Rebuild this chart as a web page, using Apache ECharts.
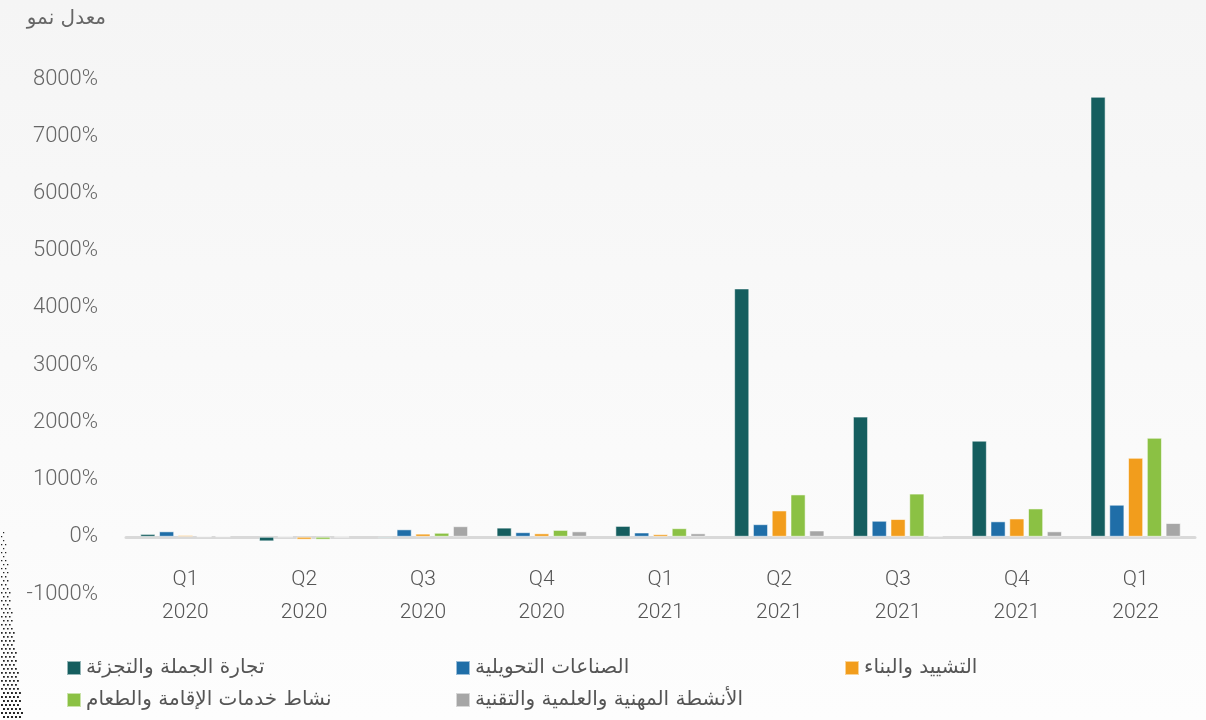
<!DOCTYPE html>
<html>
<head>
<meta charset="utf-8">
<script src="https://cdn.jsdelivr.net/npm/echarts@6/dist/echarts.min.js"></script>
<style>
html, body { margin: 0; padding: 0; }
#chart { width: 1206px; height: 720px; }
</style>
</head>
<body>
<div id="chart"></div>
<script>
const quarters = ["Q1\n2020", "Q2\n2020", "Q3\n2020", "Q4\n2020", "Q1\n2021", "Q2\n2021", "Q3\n2021", "Q4\n2021", "Q1\n2022"]
const tradeRetail = [50, -80, -25, 160, 190, 4340, 2100, 1680, 7690]
const manufacturing = [95, 0, 130, 80, 75, 220, 280, 270, 560]
const construction = [30, -50, 55, 60, 45, 460, 310, 320, 1380]
const hospitality = [5, -50, 70, 120, 150, 740, 755, 495, 1730]
const professional = [5, -5, 185, 95, 60, 110, 20, 95, 240]
const seriesNames = ["تجارة الجملة والتجزئة", "الصناعات التحويلية", "التشييد والبناء", "نشاط خدمات الإقامة والطعام", "الأنشطة المهنية والعلمية والتقنية"]
const seriesValues = [tradeRetail, manufacturing, construction, hospitality, professional]
const colors = ["#155e5f", "#1f6ea8", "#f29d1c", "#8bc144", "#a6a6a6"]

const chart = echarts.init(document.getElementById("chart"))

const font = "Roboto, 'DejaVu Sans', sans-serif"
const arabicFont = "'DejaVu Sans', sans-serif"

// legend slots: 3 columns, 2 rows
const legendPos = [[66, 658], [455, 658], [844, 658], [66, 690], [455, 690]]

// halftone dots on the lower left edge (decoration)
let dots = []
for (let y = 532; y < 720; y += 4) {
	let t = (y - 532) / 188
	let reach = 4 + t * 18
	for (let x = 1 + ((y / 4) % 2) * 2; x < reach; x += 4) {
		dots.push({
			type: "rect",
			shape: { x: x, y: y, width: 1.2 + t * 0.8, height: 1.2 + t * 0.8 },
			style: { fill: "#222" },
			silent: true
		})
	}
}

let option = {
	backgroundColor: new echarts.graphic.LinearGradient(0, 0, 0, 1, [
		{ offset: 0, color: "#f5f5f5" },
		{ offset: 1, color: "#fdfdfd" }
	]),
	color: colors,
	graphic: dots,
	grid: {
		top: 79,
		bottom: 126,
		left: 126,
		right: 11
	},
	legend: seriesNames.map((name, i) => ({
		left: legendPos[i][0],
		top: legendPos[i][1],
		padding: 0,
		itemWidth: 14,
		itemHeight: 14,
		icon: "rect",
		textStyle: {
			fontFamily: arabicFont,
			fontSize: 20,
			color: "#555"
		},
		data: [name]
	})),
	xAxis: {
		type: "category",
		data: quarters,
		axisTick: { show: false },
		axisLine: {
			onZero: true,
			lineStyle: { color: "#d9d9d9", width: 3 }
		},
		axisLabel: {
			interval: 0,
			margin: -31,
			fontSize: 21,
			fontWeight: 300,
			lineHeight: 33,
			color: "#555",
			fontFamily: font
		}
	},
	yAxis: {
		type: "value",
		min: -1000,
		max: 8000,
		interval: 1000,
		name: "معدل نمو",
		nameGap: 50,
		nameTextStyle: {
			align: "right",
			padding: [0, 20, 0, 0],
			fontFamily: arabicFont,
			fontSize: 20,
			color: "#666"
		},
		splitLine: { show: false },
		axisLine: { show: false },
		axisTick: { show: false },
		axisLabel: {
			margin: 28,
			fontSize: 22,
			fontWeight: 300,
			color: "#666",
			fontFamily: font,
			formatter: v => v + "%"
		}
	},
	series: seriesNames.map((name, i) => ({
		name: name,
		type: "bar",
		data: seriesValues[i],
		barGap: "24%",
		barCategoryGap: "24%",
		itemStyle: {
			color: colors[i],
			borderColor: "rgba(255,255,255,0.55)",
			borderWidth: 1
		}
	}))
}

chart.setOption(option)
</script>
</body>
</html>
